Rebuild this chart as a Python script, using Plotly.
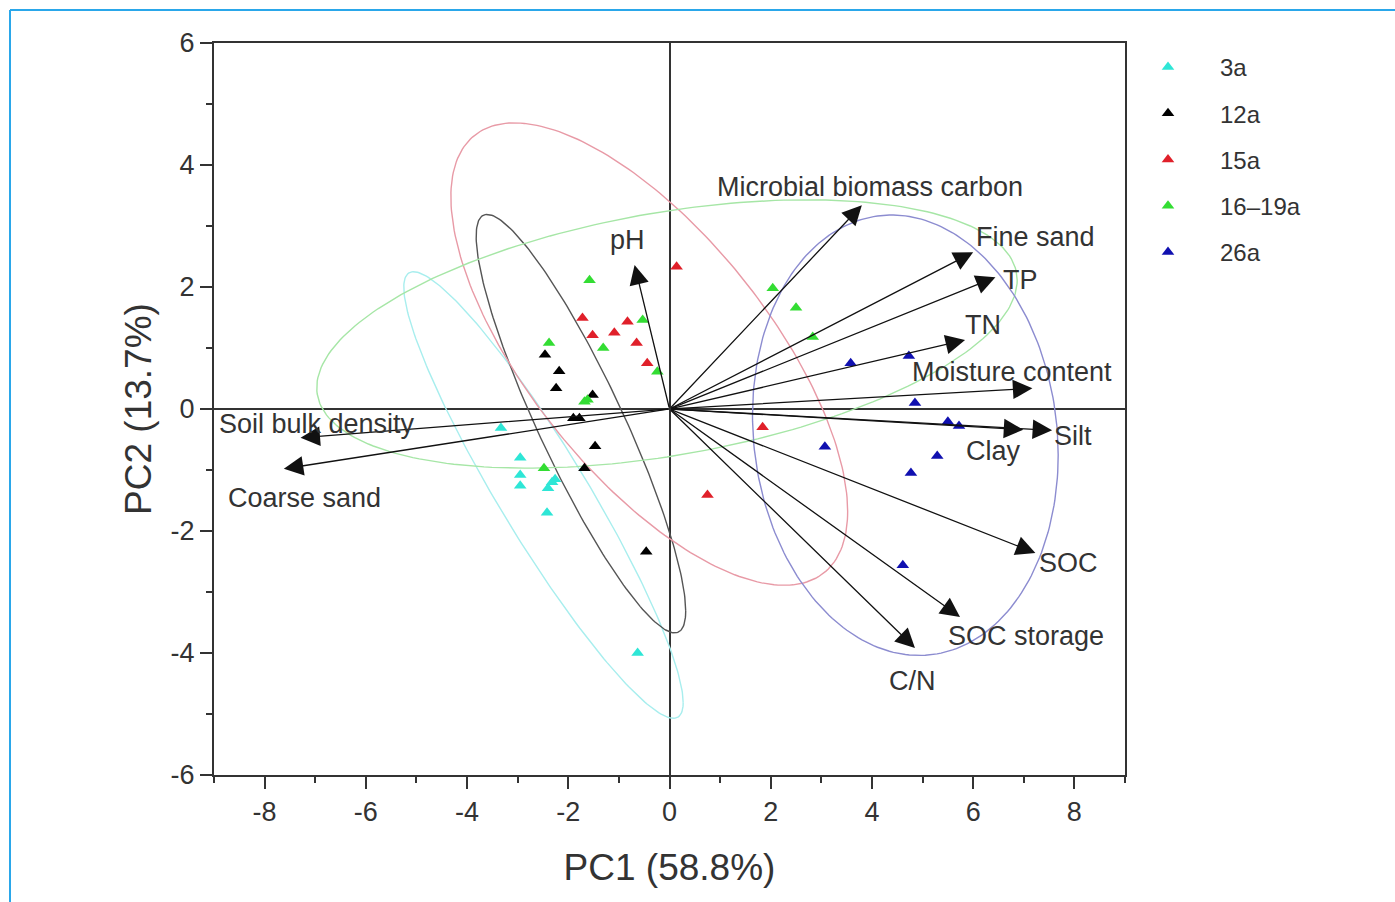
import numpy as np
import plotly.graph_objects as go

# ---------------- data ----------------
groups = ["3a", "12a", "15a", "16–19a", "26a"]
group_colors = ["#2ee6d6", "#000000", "#e0202a", "#33dd33", "#1010b0"]
ellipse_colors = ["#a8eeee", "#555555", "#e89aa6", "#a6e6a6", "#8c8cd0"]

pc1_3a = [-3.33, -2.95, -2.95, -2.95, -2.40, -2.32, -2.26, -2.42, -0.63]
pc2_3a = [-0.31, -0.80, -1.08, -1.26, -1.30, -1.20, -1.15, -1.70, -4.00]

pc1_12a = [-2.46, -2.18, -2.24, -1.52, -1.90, -1.78, -1.47, -1.68, -0.46]
pc2_12a = [0.89, 0.62, 0.34, 0.23, -0.15, -0.15, -0.61, -0.97, -2.34]

pc1_15a = [-1.72, -1.52, -1.09, -0.83, -0.65, -0.44, 0.14, 1.84, 0.75]
pc2_15a = [1.49, 1.21, 1.25, 1.43, 1.08, 0.75, 2.33, -0.30, -1.41]

pc1_1619a = [-1.58, -0.53, -2.38, -1.31, -0.24, -1.62, -1.68, -2.48, 2.04, 2.50, 2.83]
pc2_1619a = [2.11, 1.46, 1.08, 1.00, 0.61, 0.15, 0.12, -0.97, 1.98, 1.66, 1.18]

pc1_26a = [3.58, 4.73, 4.85, 5.50, 5.72, 3.07, 5.29, 4.77, 4.61]
pc2_26a = [0.75, 0.87, 0.10, -0.21, -0.28, -0.62, -0.77, -1.05, -2.56]

# confidence ellipses: centre, x half-width, y half-height, correlation
ell_cx = [-2.49, -1.75, -0.40, -0.05, 4.66]
ell_cy = [-1.41, -0.24, 0.90, 1.23, -0.43]
ell_wx = [2.76, 2.07, 3.92, 6.92, 3.02]
ell_hy = [3.66, 3.43, 3.79, 2.20, 3.61]
ell_rho = [-0.93, -0.895, -0.68, 0.40, -0.09]

# loadings (arrows)
var_names = ["pH", "Microbial biomass carbon", "Fine sand", "TP", "TN",
             "Moisture content", "Clay", "Silt", "SOC", "SOC storage", "C/N",
             "Soil bulk density", "Coarse sand"]
load_pc1 = [-0.69, 3.80, 6.00, 6.44, 5.84, 7.17, 6.99, 7.56, 7.23, 5.74, 4.85, -7.29, -7.62]
load_pc2 = [2.36, 3.34, 2.57, 2.16, 1.13, 0.34, -0.34, -0.35, -2.36, -3.41, -3.92, -0.47, -0.98]
label_pc1 = [-0.83, 3.96, 7.23, 6.93, 6.20, 6.77, 6.40, 7.98, 7.88, 7.05, 4.81, -6.97, -7.21]
label_pc2 = [2.77, 3.64, 2.82, 2.11, 1.38, 0.61, -0.69, -0.44, -2.52, -3.72, -4.46, -0.25, -1.46]

x_ticks = [-8, -6, -4, -2, 0, 2, 4, 6, 8]
y_ticks = [-6, -4, -2, 0, 2, 4, 6]

pc1_all = [pc1_3a, pc1_12a, pc1_15a, pc1_1619a, pc1_26a]
pc2_all = [pc2_3a, pc2_12a, pc2_15a, pc2_1619a, pc2_26a]

# ---------------- figure ----------------
FONT = "Arial, Liberation Sans, sans-serif"
fig = go.Figure()

# ellipses
t = np.linspace(0, 2 * np.pi, 241)
for i in range(len(groups)):
    d = np.arccos(ell_rho[i])
    ex = ell_cx[i] + ell_wx[i] * np.cos(t)
    ey = ell_cy[i] + ell_hy[i] * np.cos(t - d)
    fig.add_trace(go.Scatter(x=ex, y=ey, mode="lines",
                             line=dict(color=ellipse_colors[i], width=1.4),
                             showlegend=False, hoverinfo="skip"))

# points
for i, g in enumerate(groups):
    fig.add_trace(go.Scatter(x=pc1_all[i], y=pc2_all[i], mode="markers", name=g,
                             legendgroup=g,
                             marker=dict(symbol="triangle-up", size=11,
                                         color=group_colors[i], line=dict(width=0))))

# arrows
for i, nm in enumerate(var_names):
    fig.add_annotation(x=load_pc1[i], y=load_pc2[i], ax=0, ay=0,
                       xref="x", yref="y", axref="x", ayref="y",
                       text="", showarrow=True, arrowhead=2, arrowsize=3.0,
                       arrowwidth=1.3, arrowcolor="#111111", standoff=0)
    fig.add_annotation(x=label_pc1[i], y=label_pc2[i], xref="x", yref="y",
                       text=nm, showarrow=False,
                       font=dict(family=FONT, size=27, color="#333333"))

# border of the picture (blue, left & top)
fig.add_shape(type="line", xref="paper", yref="paper",
              x0=(10 - 214) / 911, x1=(10 - 214) / 911,
              y0=(775 - 10) / 732, y1=(775 - 905) / 732,
              line=dict(color="#2aa7ea", width=2))
fig.add_shape(type="line", xref="paper", yref="paper",
              x0=(10 - 214) / 911, x1=(1400 - 214) / 911,
              y0=(775 - 10) / 732, y1=(775 - 10) / 732,
              line=dict(color="#2aa7ea", width=2))

axis_common = dict(showgrid=False, zeroline=True, zerolinecolor="#333333",
                   zerolinewidth=2, showline=True, linecolor="#333333",
                   linewidth=2, ticks="outside", ticklen=12, tickwidth=2,
                   tickcolor="#333333", mirror=True,
                   tickfont=dict(family=FONT, size=27, color="#333333"),
                   minor=dict(ticks="outside", ticklen=6, tickwidth=2,
                              tickcolor="#333333", dtick=1, showgrid=False))

fig.update_xaxes(range=[-9, 9], tickvals=x_ticks, ticktext=[str(v) for v in x_ticks],
                 title=dict(text="PC1 (58.8%)", font=dict(family=FONT, size=37, color="#333333"),
                            standoff=28),
                 **axis_common)
fig.update_yaxes(range=[-6, 6], tickvals=y_ticks, ticktext=[str(v) for v in y_ticks],
                 title=dict(text="PC2 (13.7%)", font=dict(family=FONT, size=37, color="#333333"),
                            standoff=8),
                 **axis_common)

fig.update_layout(
    width=1395, height=902,
    margin=dict(l=214, r=270, t=43, b=127, autoexpand=False),
    plot_bgcolor="white", paper_bgcolor="white",
    showlegend=True,
    legend=dict(x=(1116 - 214) / 911, y=(775 - 45) / 732, xanchor="left", yanchor="top",
                font=dict(family=FONT, size=24, color="#333333"),
                tracegroupgap=12, itemwidth=94, bgcolor="rgba(0,0,0,0)"),
)

fig.write_html("out.html")
